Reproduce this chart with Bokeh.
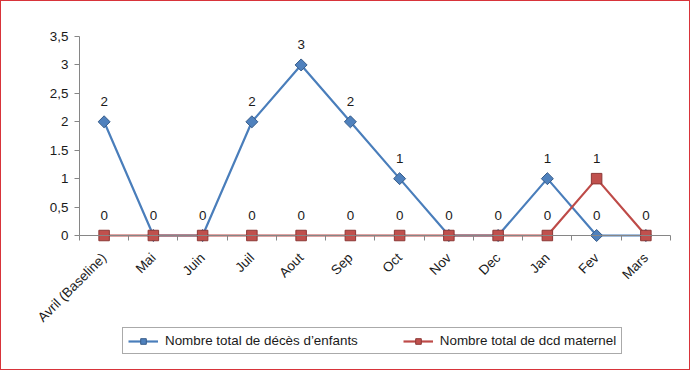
import math
from bokeh.plotting import figure
from bokeh.models import Range1d, FixedTicker, Legend, LegendItem, ColumnDataSource
from bokeh.core.properties import value
from bokeh.embed import file_html
from bokeh.resources import INLINE

months = ["Avril (Baseline)", "Mai", "Juin", "Juil", "Aout", "Sep", "Oct", "Nov", "Dec", "Jan", "Fev", "Mars"]
enfants = [2, 0, 0, 2, 3, 2, 1, 0, 0, 1, 0, 0]
maternel = [0, 0, 0, 0, 0, 0, 0, 0, 0, 0, 1, 0]
y_ticks = [0, 0.5, 1, 1.5, 2, 2.5, 3, 3.5]
y_tick_labels = ["0", "0,5", "1", "1.5", "2", "2,5", "3", "3,5"]
name_enfants = "Nombre total de décès d\u2019enfants"
name_maternel = "Nombre total de dcd maternel"

FONT = "Liberation Sans"
TEXT = "#1a1a1a"
BLUE_LINE = "#4A7EBB"
BLUE_FILL = "#4F81BD"
BLUE_EDGE = "#385D8A"
RED_LINE = "#BE4B48"
RED_FILL = "#C0504D"
RED_EDGE = "#8C3836"
AXIS = "#868686"

n = len(months)
xs = [i + 0.5 for i in range(n)]
src = ColumnDataSource(dict(x=xs, e=enfants, m=maternel))

# value labels (one per distinct position, so coincident labels are not drawn twice)
lx, ly, lt = [], [], []
for x, e, m in zip(xs, enfants, maternel):
    lx.append(x); ly.append(e); lt.append(str(e))
    if m != e:
        lx.append(x); ly.append(m); lt.append(str(m))
lab_src = ColumnDataSource(dict(x=lx, y=ly, t=lt))

p = figure(width=690, height=370, x_range=Range1d(-1.482, 12.325), y_range=Range1d(-2.304, 4.028),
           output_backend="svg", toolbar_location=None,
           min_border_left=5, min_border_right=5, min_border_top=5, min_border_bottom=5)
p.styles = {"border": "1px solid #D8343A"}
p.xgrid.visible = False
p.ygrid.visible = False
p.outline_line_color = None

lb = p.line("x", "e", source=src, line_color=BLUE_LINE, line_width=2.2)
mb = p.scatter("x", "e", source=src, marker="square", angle=math.pi / 4, size=8.5,
               fill_color=BLUE_FILL, line_color=BLUE_EDGE, line_width=1)
lr = p.line("x", "m", source=src, line_color=RED_LINE, line_width=2.2)
mr = p.scatter("x", "m", source=src, marker="square", size=10.5,
               fill_color=RED_FILL, line_color=RED_EDGE, line_width=1)

p.text("x", "y", text="t", source=lab_src, text_align="center", text_baseline="middle",
       y_offset=-20, text_font=value(FONT), text_font_size="13.4px", text_color=TEXT)

xa = p.xaxis[0]
xa.fixed_location = 0
xa.bounds = (0, n)
xa.ticker = FixedTicker(ticks=xs, minor_ticks=list(range(n + 1)))
xa.major_label_overrides = {x: m for x, m in zip(xs, months)}
xa.major_tick_line_color = None
xa.minor_tick_out = 5
xa.minor_tick_in = 0
xa.minor_tick_line_color = AXIS
xa.axis_line_color = AXIS
xa.major_label_orientation = math.pi / 4
xa.major_label_text_font = FONT
xa.major_label_text_font_size = "13.5px"
xa.major_label_text_color = TEXT
xa.major_label_standoff = 14

ya = p.yaxis[0]
ya.fixed_location = 0
ya.bounds = (0, 3.5)
ya.ticker = FixedTicker(ticks=y_ticks)
ya.major_label_overrides = {t: l for t, l in zip(y_ticks, y_tick_labels)}
ya.major_tick_out = 5
ya.major_tick_in = 0
ya.major_tick_line_color = AXIS
ya.minor_tick_line_color = None
ya.axis_line_color = AXIS
ya.major_label_text_font = FONT
ya.major_label_text_font_size = "13.4px"
ya.major_label_text_color = TEXT
ya.major_label_standoff = 6

legend = Legend(items=[LegendItem(label=name_enfants, renderers=[lb, mb]),
                       LegendItem(label=name_maternel, renderers=[lr, mr])],
                orientation="horizontal", location=(116, 12))
legend.label_text_font = FONT
legend.label_text_font_size = "13.4px"
legend.label_text_color = TEXT
legend.border_line_color = "#555555"
legend.border_line_width = 1
legend.glyph_width = 30
legend.glyph_height = 14
legend.label_standoff = 7
legend.spacing = 45
legend.padding = 5
legend.margin = 0
legend.label_height = 14
p.add_layout(legend, "center")

open("out.html", "w").write(file_html(p, INLINE))
